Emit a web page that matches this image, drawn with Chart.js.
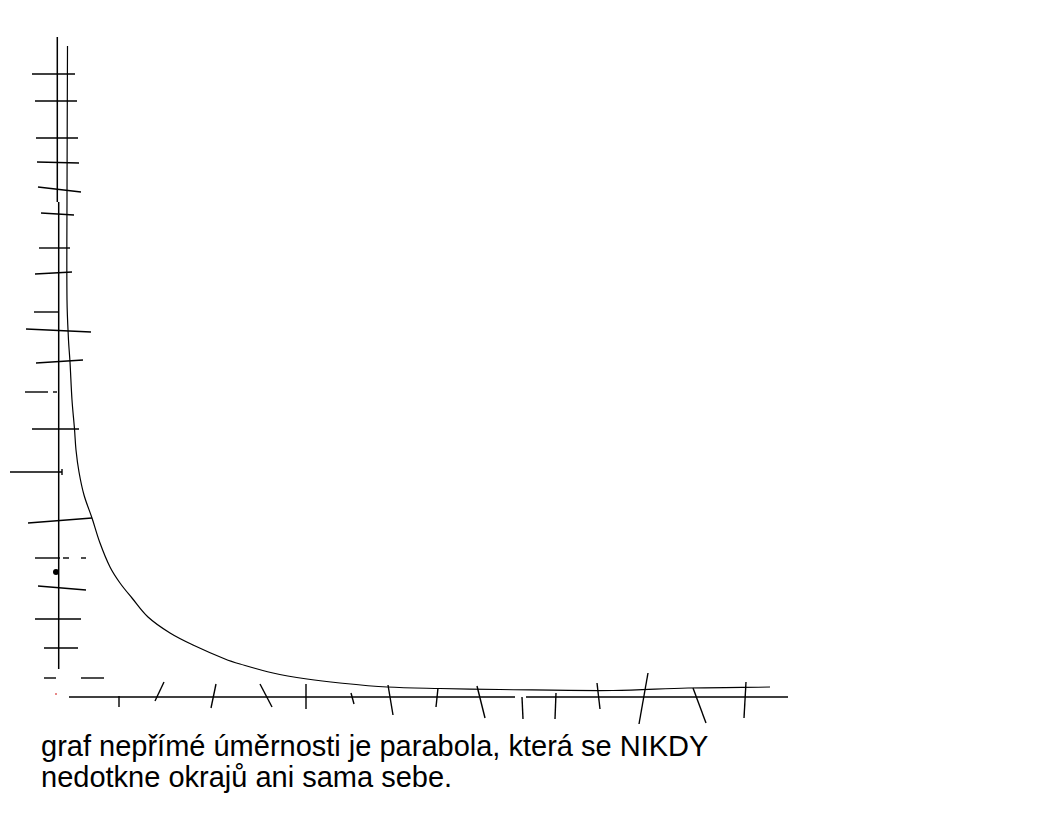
<!DOCTYPE html>
<html>
<head>
<meta charset="utf-8">
<script src="https://cdn.jsdelivr.net/npm/chart.js@4"></script>
<style>
    body { margin: 0; background: #fff; }
    #wrap { position: relative; width: 1048px; height: 833px; }
    #graf { position: absolute; left: 0; top: 0; }
    #popis {
        position: absolute; left: 41px; top: 731px;
        font-family: "Liberation Sans", Arial, sans-serif;
        font-size: 29px; line-height: 31px; color: #000;
        white-space: nowrap;
    }
</style>
</head>
<body>
<div id="wrap">
    <canvas id="graf" width="1048" height="730"></canvas>
    <div id="popis">graf nepřímé úměrnosti je parabola, která se NIKDY<br>nedotkne okrajů ani sama sebe.</div>
</div>
<script>
// hand drawn curve (x, y)
const curveX = [0.85, 0.8, 0.8, 0.95, 1.1, 1.3, 1.55, 1.7, 2.0, 2.5, 3.3, 4.1, 5.1, 6.1, 7.3, 8.9, 11.1, 13.4, 16.6, 18.1, 21.4, 24.8, 28.1, 32.8, 38.1, 44.1, 55.4, 62.9, 71.1];
const curveY = [65.1, 49.7, 39.7, 35.7, 33.5, 29.7, 26.8, 24.7, 22.5, 20.2, 17.9, 15.4, 13.0, 11.4, 9.9, 8.0, 6.4, 5.2, 3.8, 3.3, 2.4, 1.8, 1.4, 1.0, 0.85, 0.75, 0.65, 0.9, 1.0];

// axis strokes [x1, y1, x2, y2]
const axisLines = [
    [-0.17, 66.0, -0.17, 49.5],
    [-0.03, 49.5, -0.03, 2.8],
    [1.0, 0, 45.6, 0],
    [46.7, 0, 72.9, 0]
];

// tick strokes on the y axis
const yTicks = [
    [-2.7, 62.3, 1.6, 62.3],
    [-2.4, 59.6, 1.8, 59.6],
    [-2.3, 55.9, 1.9, 55.9],
    [-2.2, 53.5, 2.0, 53.4],
    [-2.1, 51.0, 2.2, 50.5],
    [-1.8, 48.4, 1.5, 48.2],
    [-2.0, 44.9, 1.1, 44.9],
    [-2.4, 42.3, 1.3, 42.5],
    [-2.5, 38.5, 0, 38.5],
    [-3.3, 36.8, 3.2, 36.5],
    [-2.3, 33.4, 2.4, 33.7],
    [-3.4, 30.5, -1.1, 30.5],
    [-0.6, 30.5, -0.2, 30.5],
    [-2.7, 26.8, 2.0, 26.8],
    [-4.9, 22.5, 0.3, 22.5],
    [0.3, 22.8, 0.3, 22.2],
    [-3.1, 17.4, 3.3, 17.9],
    [-2.4, 13.9, 0.1, 13.9],
    [0.4, 13.9, 1.0, 13.9],
    [2.2, 13.9, 2.7, 13.9],
    [-2.1, 11.1, 2.7, 10.7],
    [-2.4, 7.8, 2.2, 7.8],
    [-1.5, 4.9, 1.9, 4.9],
    [-1.5, 1.9, -0.3, 1.9],
    [2.2, 1.9, 4.5, 1.9]
];

// tick strokes on the x axis
const xTicks = [
    [6.0, 0.1, 6.0, -1.0],
    [10.5, 1.5, 9.6, -0.4],
    [15.7, 1.3, 15.2, -1.1],
    [20.1, 1.3, 21.3, -1.0],
    [24.7, 1.3, 24.7, -1.2],
    [29.2, 0.4, 29.5, -0.7],
    [32.9, 1.2, 33.4, -1.8],
    [37.9, 0.9, 37.7, -1.0],
    [41.8, 1.1, 42.6, -2.1],
    [46.3, 0, 46.4, -2.2],
    [49.7, 0.4, 49.6, -2.2],
    [53.8, 1.4, 54.1, -1.2],
    [58.9, 2.4, 58.0, -2.7],
    [63.4, 0.9, 64.7, -2.6],
    [68.7, 1.5, 68.5, -2.1]
];

const blackDot = [-0.3, 12.5];
const redDot = [-0.3, 0.3];

const segment = (s, w) => ({
    data: [{ x: s[0], y: s[1] }, { x: s[2], y: s[3] }],
    showLine: true,
    borderColor: "#000",
    borderWidth: w,
    pointRadius: 0,
    tension: 0
});

const datasets = [];
axisLines.forEach(s => datasets.push(segment(s, 1.5)));
yTicks.forEach(s => datasets.push(segment(s, 1.4)));
xTicks.forEach(s => datasets.push(segment(s, 1.4)));

datasets.push({
    data: curveX.map((x, i) => ({ x: x, y: curveY[i] })),
    showLine: true,
    borderColor: "#000",
    borderWidth: 1.2,
    pointRadius: 0,
    tension: 0.35
});
datasets.push({
    data: [{ x: blackDot[0], y: blackDot[1] }],
    pointRadius: 3,
    backgroundColor: "#000",
    borderWidth: 0
});
datasets.push({
    data: [{ x: redDot[0], y: redDot[1] }],
    pointRadius: 1,
    backgroundColor: "#e06060",
    borderWidth: 0
});

new Chart(document.getElementById("graf").getContext("2d"), {
    type: "scatter",
    data: { datasets: datasets },
    options: {
        responsive: false,
        animation: false,
        layout: { padding: 0, autoPadding: false },
        plugins: { legend: { display: false }, tooltip: { enabled: false } },
        scales: {
            x: { type: "linear", display: false, min: -5.9, max: 98.9 },
            y: { type: "linear", display: false, min: -3.3, max: 69.7 }
        }
    }
});
</script>
</body>
</html>
